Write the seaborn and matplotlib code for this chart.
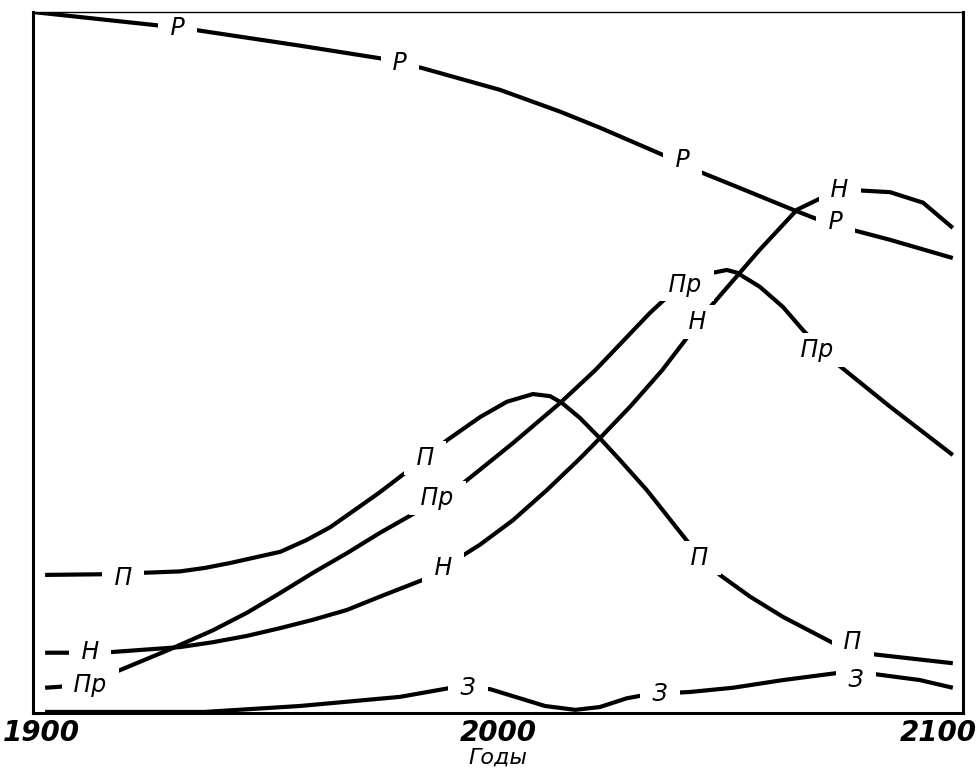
import numpy as np
import pandas as pd
import matplotlib
matplotlib.use("Agg")
import matplotlib.pyplot as plt
import matplotlib.transforms as mtransforms
import seaborn as sns

# ---- значения (ось Y без шкалы, условные единицы 0..100) ----
years_p = [1900, 1926.7, 1935.3, 1957.4, 1974.6, 1983.7, 2000.4, 2013.3, 2021.9,
           2035.5, 2043.4, 2050.5, 2063.4, 2069.2, 2076.3, 2084.3, 2097.8]
vals_p = [100.0, 98.1, 97.4, 95.2, 93.4, 92.0, 88.9, 85.8, 83.5,
          79.6, 77.2, 75.3, 71.8, 70.3, 68.9, 67.5, 64.9]

years_n = [1902.6, 1910.1, 1917.0, 1931.6, 1938.7, 1946.0, 1953.1, 1960.2, 1967.5,
           1974.6, 1985.4, 1992.5, 1996.1, 2003.2, 2010.5, 2017.6, 2021.9, 2028.4,
           2035.3, 2039.8, 2045.6, 2056.3, 2064.3, 2069.9, 2076.3, 2084.3, 2091.4,
           2097.8]
vals_n = [8.6, 8.6, 8.7, 9.4, 10.1, 11.0, 12.1, 13.3, 14.7,
          16.6, 19.4, 22.5, 24.0, 27.5, 31.8, 36.3, 39.2, 43.7,
          48.9, 52.8, 57.9, 66.1, 71.8, 73.6, 74.6, 74.3, 72.8,
          69.2]

years_pr = [1902.6, 1909.0, 1917.2, 1929.5, 1938.7, 1946.0, 1953.1, 1960.2, 1967.5,
            1974.6, 1983.9, 1991.2, 1996.1, 2003.2, 2013.3, 2020.9, 2032.7, 2036.3,
            2043.9, 2049.2, 2051.4, 2056.3, 2061.3, 2065.6, 2071.8, 2084.3, 2097.8]
vals_pr = [3.6, 3.9, 5.7, 9.1, 11.8, 14.3, 17.1, 20.0, 22.8,
           25.7, 29.2, 32.1, 34.7, 38.5, 44.2, 48.9, 57.1, 59.3,
           62.5, 63.2, 62.8, 60.8, 57.9, 54.6, 50.4, 43.7, 36.8]

years_pi = [1902.6, 1915.9, 1923.7, 1931.6, 1937.0, 1942.4, 1953.2, 1958.9, 1963.9,
            1969.7, 1974.6, 1981.7, 1989.0, 1996.1, 2001.9, 2007.5, 2011.2, 2013.8,
            2017.6, 2021.9, 2026.2, 2032.0, 2037.6, 2041.9, 2047.7, 2054.2, 2061.3,
            2072.0, 2080.4, 2097.8]
vals_pi = [19.7, 19.8, 20.0, 20.2, 20.7, 21.4, 23.0, 24.7, 26.5,
           29.2, 31.5, 35.1, 38.9, 42.2, 44.4, 45.5, 45.2, 44.2,
           42.1, 39.2, 36.1, 31.8, 27.1, 23.5, 19.7, 16.6, 13.7,
           10.0, 8.4, 7.1]

years_z = [1902.6, 1936.8, 1957.4, 1978.9, 1990.8, 1998.3, 2004.7, 2010.1, 2016.6,
           2021.9, 2027.7, 2032.7, 2041.3, 2050.5, 2061.3, 2072.9, 2080.4, 2090.7,
           2097.8]
vals_z = [0.15, 0.15, 1.0, 2.3, 3.7, 3.4, 2.1, 1.0, 0.45,
          0.85, 2.1, 2.7, 3.0, 3.6, 4.7, 5.7, 5.6, 4.7,
          3.6]

# надписи на кривых: (год, значение) центра надписи
labels_p = [(1931.0, 97.7), (1978.9, 92.7), (2039.6, 78.9), (2072.5, 70.0)]
labels_n = [(1912.3, 8.7), (1988.2, 20.7), (2042.8, 55.8), (2073.5, 74.6)]
labels_pr = [(1912.3, 4.0), (1986.9, 30.7), (2040.2, 61.1), (2068.6, 51.8)]
labels_pi = [(1919.4, 19.3), (1984.3, 36.4), (2043.4, 22.1), (2076.3, 10.1)]
labels_z = [(1993.5, 3.6), (2034.8, 2.7), (2077.0, 4.7)]

curves = [
    ("Р", years_p, vals_p, labels_p),
    ("Н", years_n, vals_n, labels_n),
    ("Пр", years_pr, vals_pr, labels_pr),
    ("П", years_pi, vals_pi, labels_pi),
    ("З", years_z, vals_z, labels_z),
]

df = pd.concat(
    [pd.DataFrame({"год": xs, "значение": ys, "кривая": name})
     for name, xs, ys, _ in curves],
    ignore_index=True,
)

sns.set_style("white")
plt.rcParams["font.family"] = ["Liberation Sans Narrow", "DejaVu Sans"]

fig = plt.figure(figsize=(9.8, 7.75), dpi=100)
ax = fig.add_axes([0.0337, 0.08, 0.949, 0.9045])

sns.lineplot(data=df, x="год", y="значение", units="кривая", estimator=None,
             color="black", linewidth=3.0, sort=False, ax=ax, legend=False)
for ln in ax.get_lines():
    ln.set_solid_capstyle("butt")
    ln.set_solid_joinstyle("round")

# надписи с белой подложкой -- разрывают линию, как на оригинале
for name, _, _, labs in curves:
    for lx, ly in labs:
        ax.text(lx, ly, f" {name} ", ha="center", va="center", fontsize=17,
                style="italic", color="black", zorder=5,
                bbox=dict(boxstyle="square,pad=0.2", fc="white", ec="none"))

ax.set_xlim(1900, 2100)
ax.set_ylim(0, 100)
ax.set_xticks([1900, 2000, 2100])
ax.set_xticklabels(["1900", "2000", "2100"], fontsize=20, style="italic",
                   fontweight="bold", color="black")
ax.set_yticks([])
ax.tick_params(axis="x", direction="in", length=7, width=1.5, pad=4,
               color="black")
tl = ax.get_xticklabels()
tl[0].set_horizontalalignment("left")
tl[0].set_transform(tl[0].get_transform() +
                    mtransforms.ScaledTranslation(-0.30, 0, fig.dpi_scale_trans))
tl[2].set_horizontalalignment("right")
tl[2].set_transform(tl[2].get_transform() +
                    mtransforms.ScaledTranslation(0.14, 0, fig.dpi_scale_trans))
ax.set_xlabel("Годы", fontsize=16, style="italic", color="black", labelpad=1)
ax.set_ylabel("")
for side in ["left", "bottom", "right"]:
    ax.spines[side].set_linewidth(2.2)
    ax.spines[side].set_color("black")
ax.spines["top"].set_linewidth(1.0)
ax.spines["top"].set_color("black")
# рамка поверх подложек надписей
for sp in ax.spines.values():
    sp.set_zorder(6)

fig.savefig("out.png", dpi=100)
